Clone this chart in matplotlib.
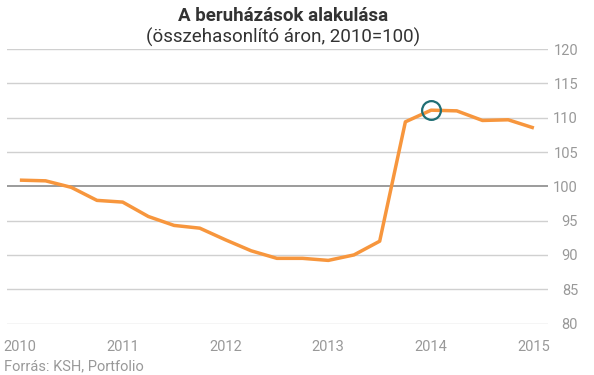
import matplotlib.pyplot as plt

plt.rcParams['font.family'] = ['Roboto', 'DejaVu Sans']

# Negyedéves adatok, 2010 Q1 - 2015 Q1
negyedevek = list(range(21))
ertekek = [100.9, 100.8, 99.85, 97.95, 97.7, 95.6, 94.3, 93.9, 92.2, 90.6,
           89.5, 89.5, 89.2, 90.0, 92.0, 109.4, 111.1, 111.0, 109.6, 109.7, 108.5]
ev_poziciok = [0, 4, 8, 12, 16, 20]
ev_cimkek = ['2010', '2011', '2012', '2013', '2014', '2015']
y_tickek = [80, 85, 90, 95, 100, 105, 110, 115, 120]
kiemelt = 16  # 2014 Q1

fig = plt.figure(figsize=(5.94, 3.75), dpi=100)
ax = fig.add_axes([0.0118, 0.1373, 0.9108, 0.7317])

ax.plot(negyedevek, ertekek, color='#f7963d', linewidth=2.5, solid_capstyle='butt', zorder=3)

# Kiemelés kör
ax.plot(negyedevek[kiemelt], ertekek[kiemelt], marker='o', markersize=13.5,
        markerfacecolor='none', markeredgecolor='#1f6e74', markeredgewidth=1.6, zorder=4)

ax.set_xlim(-0.5, 20.55)
ax.set_ylim(80, 120)
ax.set_yticks(y_tickek)
for v in y_tickek:
    if v == 100:
        ax.axhline(v, color='#8a8a8a', linewidth=1.2, zorder=1)
    else:
        ax.axhline(v, color='#d0d0d0', linewidth=1.0, zorder=1)

ax.yaxis.tick_right()
ax.tick_params(axis='y', length=0, pad=21.6, labelsize=10.5, labelcolor='#999999')
for lbl in ax.get_yticklabels():
    lbl.set_horizontalalignment('right')

ax.set_xticks(ev_poziciok)
ax.set_xticklabels(ev_cimkek)
ax.tick_params(axis='x', length=0, pad=12, labelsize=10.5, labelcolor='#999999')

for s in ax.spines.values():
    s.set_visible(False)

fig.text(0.477, 0.958, 'A beruházások alakulása', ha='center', va='center',
         fontsize=13.5, fontweight='bold', color='#333333')
fig.text(0.477, 0.900, '(összehasonlító áron, 2010=100)', ha='center', va='center',
         fontsize=13.5, color='#333333')
fig.text(0.007, 0.024, 'Forrás: KSH, Portfolio', ha='left', va='center',
         fontsize=10.5, color='#999999')

fig.savefig('out.png', dpi=100)
